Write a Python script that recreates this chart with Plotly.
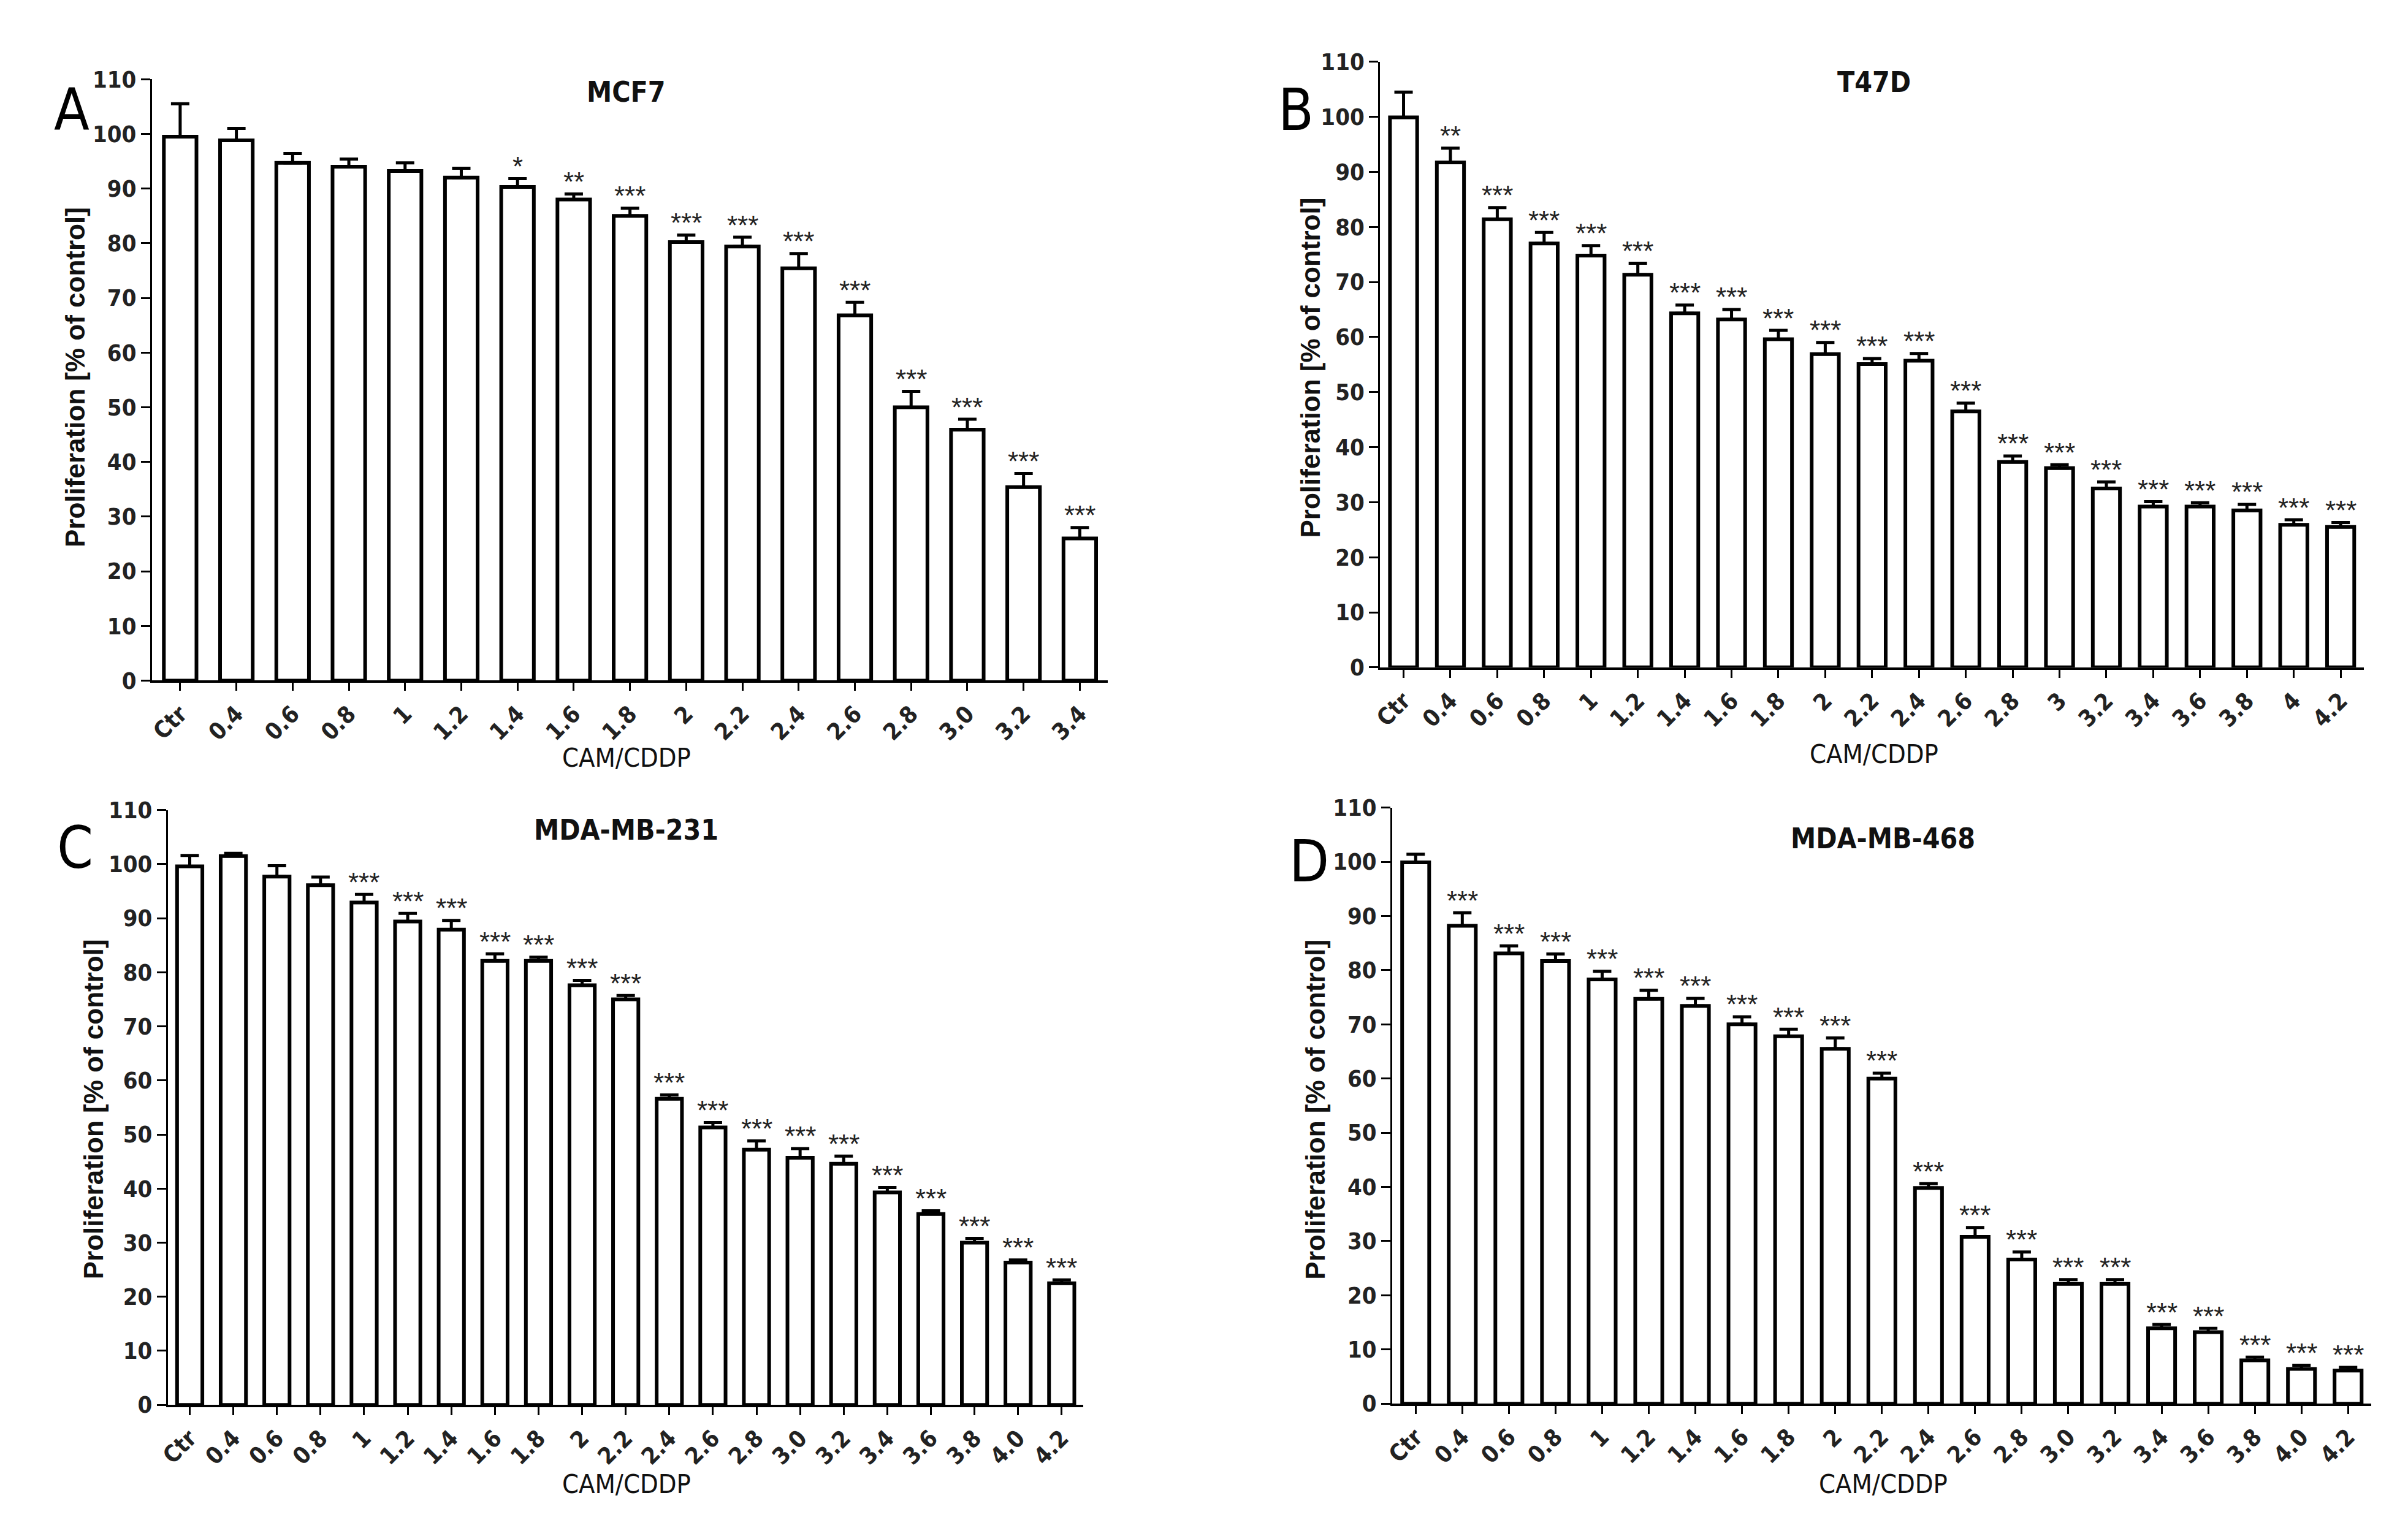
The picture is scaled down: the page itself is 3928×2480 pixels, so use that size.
import plotly.graph_objects as go

# ---------------- data ----------------
cats_A = ["Ctr", "0.4", "0.6", "0.8", "1", "1.2", "1.4", "1.6", "1.8", "2", "2.2", "2.4", "2.6", "2.8", "3.0", "3.2", "3.4"]
mean_A = [99.5, 98.8, 94.7, 94.0, 93.2, 92.0, 90.3, 88.0, 85.0, 80.2, 79.4, 75.4, 66.8, 50.0, 45.9, 35.4, 26.0]
err_A = [6.0, 2.2, 1.7, 1.4, 1.5, 1.7, 1.5, 1.0, 1.4, 1.3, 1.7, 2.7, 2.4, 2.9, 1.9, 2.5, 2.0]
sig_A = ["", "", "", "", "", "", "*", "**", "***", "***", "***", "***", "***", "***", "***", "***", "***"]

cats_B = ["Ctr", "0.4", "0.6", "0.8", "1", "1.2", "1.4", "1.6", "1.8", "2", "2.2", "2.4", "2.6", "2.8", "3", "3.2", "3.4", "3.6", "3.8", "4", "4.2"]
mean_B = [99.9, 91.7, 81.4, 77.0, 74.8, 71.3, 64.3, 63.2, 59.6, 56.9, 55.1, 55.7, 46.5, 37.3, 36.2, 32.5, 29.2, 29.2, 28.5, 25.9, 25.5]
err_B = [4.6, 2.6, 2.1, 2.0, 1.8, 2.1, 1.5, 1.8, 1.6, 2.1, 1.0, 1.3, 1.5, 1.1, 0.6, 1.2, 0.9, 0.7, 1.1, 0.9, 0.8]
sig_B = ["", "**"] + ["***"] * 19

cats_C = ["Ctr", "0.4", "0.6", "0.8", "1", "1.2", "1.4", "1.6", "1.8", "2", "2.2", "2.4", "2.6", "2.8", "3.0", "3.2", "3.4", "3.6", "3.8", "4.0", "4.2"]
mean_C = [99.6, 101.5, 97.7, 96.1, 92.9, 89.4, 87.9, 82.1, 82.1, 77.6, 75.0, 56.6, 51.3, 47.2, 45.7, 44.6, 39.3, 35.3, 30.0, 26.3, 22.5]
err_C = [2.0, 0.5, 2.0, 1.5, 1.5, 1.5, 1.7, 1.3, 0.7, 0.9, 0.7, 0.7, 0.9, 1.6, 1.7, 1.4, 0.9, 0.6, 0.8, 0.5, 0.6]
sig_C = ["", "", "", ""] + ["***"] * 17

cats_D = ["Ctr", "0.4", "0.6", "0.8", "1", "1.2", "1.4", "1.6", "1.8", "2", "2.2", "2.4", "2.6", "2.8", "3.0", "3.2", "3.4", "3.6", "3.8", "4.0", "4.2"]
mean_D = [99.9, 88.2, 83.1, 81.7, 78.3, 74.7, 73.4, 70.0, 67.8, 65.5, 60.0, 39.8, 30.8, 26.6, 22.1, 22.1, 13.9, 13.2, 8.0, 6.4, 6.1]
err_D = [1.5, 2.4, 1.4, 1.3, 1.5, 1.6, 1.4, 1.4, 1.3, 2.0, 1.0, 0.8, 1.7, 1.4, 0.8, 0.8, 0.7, 0.7, 0.6, 0.7, 0.6]
sig_D = [""] + ["***"] * 20

titles = ["MCF7", "T47D", "MDA-MB-231", "MDA-MB-468"]
letters = ["A", "B", "C", "D"]
x_title = "CAM/CDDP"
y_title = "Proliferation [% of control]"
y_ticks = list(range(0, 111, 10))

# ---------------- layout (pixels) ----------------
W, H = 3928, 2480
NARROW = "DejaVu Sans Condensed, Liberation Sans Narrow, Arial Narrow, Liberation Sans, Arial, sans-serif"
BOLD = "Liberation Sans, Arial, sans-serif"

# x0, x1, y(110), y(0) in pixels; title pos; letter pos; x-title pos; y-title pos
panels = [
    dict(cats=cats_A, mean=mean_A, err=err_A, sig=sig_A, box=(224, 1790, 101, 1100),
         title=(1001, 122), letter=(92, 152), xt=(1001, 1228), yt=(98, 596)),
    dict(cats=cats_B, mean=mean_B, err=err_B, sig=sig_B, box=(2236, 3848, 72, 1078),
         title=(3045, 106), letter=(2098, 152), xt=(3045, 1222), yt=(2122, 580)),
    dict(cats=cats_C, mean=mean_C, err=err_C, sig=sig_C, box=(250, 1750, 1315, 2303),
         title=(1001, 1348), letter=(98, 1378), xt=(1001, 2434), yt=(128, 1812)),
    dict(cats=cats_D, mean=mean_D, err=err_D, sig=sig_D, box=(2256, 3860, 1311, 2301),
         title=(3060, 1362), letter=(2120, 1400), xt=(3060, 2434), yt=(2130, 1812)),
]

fig = go.Figure()
annotations = []

def px(x):
    return x / W

def py(y):
    return 1 - y / H

for i, p in enumerate(panels):
    n = i + 1
    xa = "x" if n == 1 else f"x{n}"
    ya = "y" if n == 1 else f"y{n}"
    fig.add_trace(go.Bar(
        x=p["cats"], y=p["mean"], xaxis=xa, yaxis=ya,
        width=0.58,
        marker=dict(color="white", line=dict(color="black", width=6)),
        error_y=dict(type="data", array=p["err"], arrayminus=[0] * len(p["err"]),
                     symmetric=False, color="black", thickness=5, width=15),
        showlegend=False, hoverinfo="x+y",
    ))
    x0, x1, ytop, ybot = p["box"]
    axis_x = dict(domain=[px(x0), px(x1)], type="category", anchor=ya,
                  range=[-0.5, len(p["cats"]) - 0.5],
                  showline=True, linecolor="black", linewidth=4,
                  ticks="outside", ticklen=13, tickwidth=3, tickcolor="black",
                  tickangle=-45, showgrid=False, zeroline=False,
                  tickfont=dict(family=NARROW, size=38, color="#222", weight="bold"))
    axis_y = dict(domain=[py(ybot), py(ytop)], anchor=xa, range=[0, 110],
                  tickmode="array", tickvals=y_ticks,
                  showline=True, linecolor="black", linewidth=3,
                  ticks="outside", ticklen=15, tickwidth=3, tickcolor="black",
                  showgrid=False, zeroline=False,
                  tickfont=dict(family=NARROW, size=38, color="#222", weight="bold"))
    fig.update_layout({("xaxis" if n == 1 else f"xaxis{n}"): axis_x,
                       ("yaxis" if n == 1 else f"yaxis{n}"): axis_y})

    # significance stars (positioned by category index on the category axis)
    for j, (m, e, s) in enumerate(zip(p["mean"], p["err"], p["sig"])):
        if s:
            annotations.append(dict(x=j, y=m + e, xref=xa, yref=ya, text=s,
                                    showarrow=False, yanchor="middle", yshift=20,
                                    font=dict(family=BOLD, size=44, color="#222")))
    # panel title
    annotations.append(dict(x=px(p["title"][0]), y=py(p["title"][1]), xref="paper", yref="paper",
                            text=f"<b>{titles[i]}</b>", showarrow=False,
                            xanchor="center", yanchor="middle",
                            font=dict(family=NARROW, size=46, color="#111")))
    # panel letter
    annotations.append(dict(x=px(p["letter"][0]), y=py(p["letter"][1]), xref="paper", yref="paper",
                            text=letters[i], showarrow=False,
                            xanchor="center", yanchor="middle",
                            font=dict(family=NARROW, size=94, color="black")))
    # x title
    annotations.append(dict(x=px(p["xt"][0]), y=py(p["xt"][1]), xref="paper", yref="paper",
                            text=x_title, showarrow=False,
                            xanchor="center", yanchor="middle",
                            font=dict(family=NARROW, size=43, color="#111")))
    # y title
    annotations.append(dict(x=px(p["yt"][0]), y=py(p["yt"][1]), xref="paper", yref="paper",
                            text=f"<b>{y_title}</b>", showarrow=False, textangle=-90,
                            xanchor="center", yanchor="middle",
                            font=dict(family=BOLD, size=44, color="#111")))

fig.update_layout(width=W, height=H, margin=dict(l=0, r=0, t=0, b=0),
                  paper_bgcolor="white", plot_bgcolor="white",
                  bargap=0.42, annotations=annotations, showlegend=False)

fig.write_html("out.html")
